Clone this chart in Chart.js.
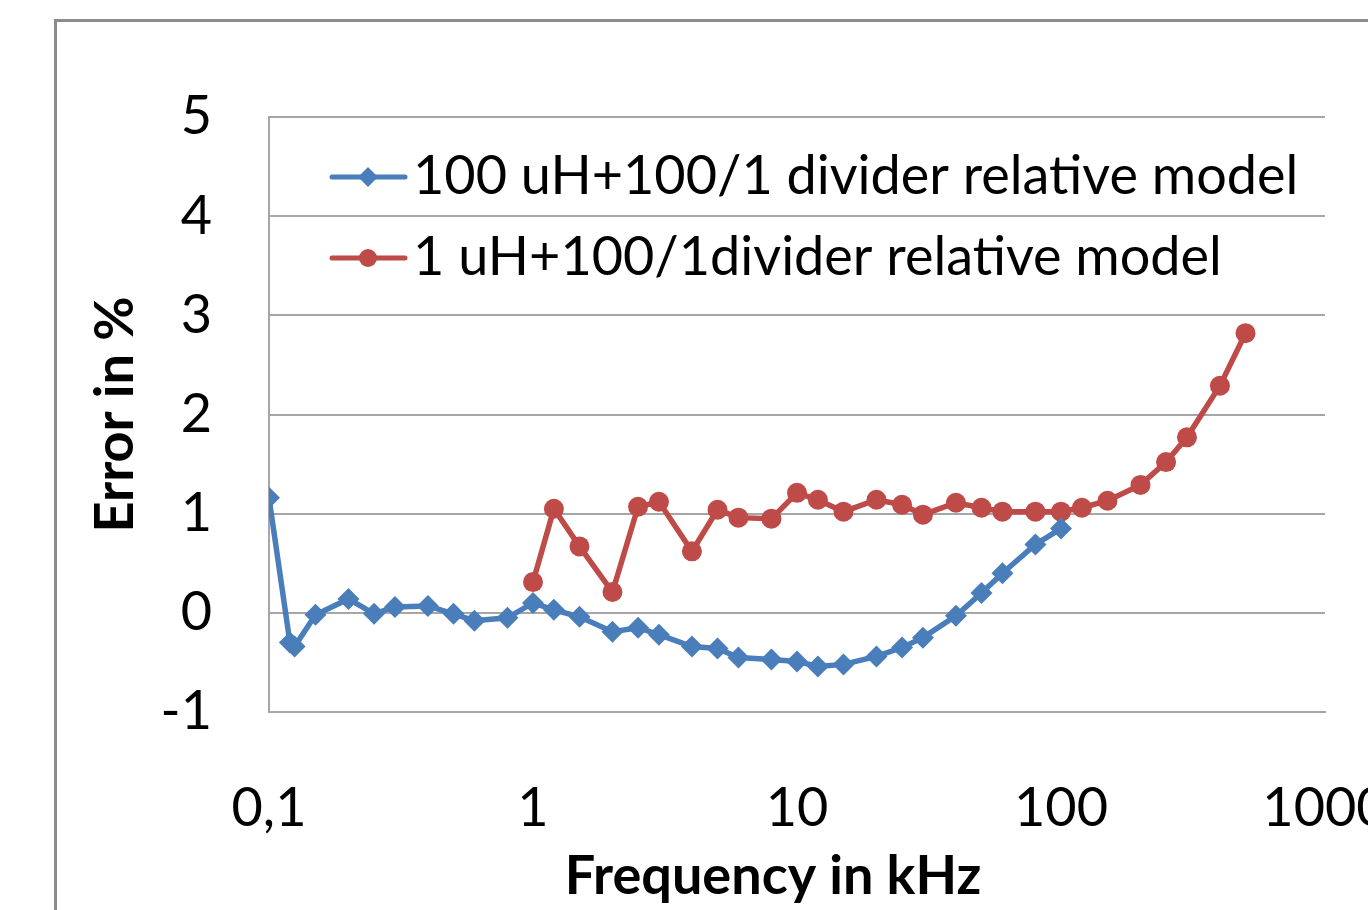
<!DOCTYPE html>
<html>
<head>
<meta charset="utf-8">
<script src="https://cdn.jsdelivr.net/npm/chart.js@4.4.1/dist/chart.umd.min.js"></script>
<style>
  html, body { margin: 0; padding: 0; background: #fff; overflow: hidden; width: 1368px; height: 910px; }
  #wrap { position: absolute; left: 0; top: 0; width: 1420px; height: 910px; }
  #frame { position: absolute; left: 54px; top: 19px; width: 1500px; height: 1000px; border: 3px solid #8c8c8c; box-sizing: border-box; }
  canvas { position: absolute; left: 0; top: 0; }
</style>
</head>
<body>
<div id="wrap">
  <div id="frame"></div>
  <canvas id="c" width="1420" height="910"></canvas>
</div>
<script>
// ---- data ----
const seriesNames = ["100 uH+100/1 divider relative model", "1 uH+100/1divider relative model"];
const freqA = [0.1, 0.12, 0.125, 0.15, 0.2, 0.25, 0.3, 0.4, 0.5, 0.6, 0.8, 1, 1.2, 1.5, 2, 2.5, 3, 4, 5, 6, 8, 10, 12, 15, 20, 25, 30, 40, 50, 60, 80, 100];
const errA  = [1.16, -0.30, -0.34, -0.02, 0.14, -0.01, 0.06, 0.07, -0.01, -0.08, -0.05, 0.10, 0.03, -0.04, -0.19, -0.15, -0.22, -0.34, -0.36, -0.45, -0.47, -0.49, -0.54, -0.52, -0.44, -0.35, -0.25, -0.03, 0.20, 0.40, 0.69, 0.85];
const freqB = [1, 1.2, 1.5, 2, 2.5, 3, 4, 5, 6, 8, 10, 12, 15, 20, 25, 30, 40, 50, 60, 80, 100, 120, 150, 200, 250, 300, 400, 500];
const errB  = [0.31, 1.05, 0.67, 0.21, 1.07, 1.12, 0.62, 1.04, 0.96, 0.95, 1.21, 1.14, 1.02, 1.14, 1.09, 0.99, 1.11, 1.06, 1.02, 1.02, 1.02, 1.06, 1.13, 1.29, 1.52, 1.77, 2.29, 2.82];
const xTickValues = [0.1, 1, 10, 100, 1000];
const xTickLabels = ["0,1", "1", "10", "100", "1000"];
const yTickValues = [-1, 0, 1, 2, 3, 4, 5];
const xTitle = "Frequency in kHz";
const yTitle = "Error in %";

const colors = ["#4a7ebb", "#be4b48"];
const markers = ["rectRot", "circle"];
const markerRadius = [11, 10];

const FONT = "Lato, 'Open Sans', sans-serif";

const toPoints = (xs, ys) => xs.map((x, i) => ({ x: x, y: ys[i] }));

const legendPlugin = {
  id: 'innerLegend',
  afterDatasetsDraw(chart) {
    const ctx = chart.ctx;
    const rows = [177, 258];
    ctx.save();
    chart.data.datasets.forEach((ds, i) => {
      const y = rows[i];
      ctx.strokeStyle = ds.borderColor;
      ctx.lineWidth = 5;
      ctx.lineCap = 'round';
      ctx.beginPath();
      ctx.moveTo(332, y);
      ctx.lineTo(405, y);
      ctx.stroke();
      ctx.fillStyle = ds.borderColor;
      Chart.helpers.drawPoint(ctx, { pointStyle: ds.pointStyle, radius: ds.pointRadius - 1, borderWidth: 0 }, 368, y);
      ctx.fillStyle = '#000';
      ctx.font = "54px " + FONT;
      ctx.textBaseline = 'middle';
      ctx.textAlign = 'left';
      ctx.fillText(ds.label, 413, y);
    });
    // x-axis title (centred as in the original, slightly left of the plot centre)
    ctx.font = "bold 54px " + FONT;
    ctx.textAlign = 'center';
    ctx.textBaseline = 'middle';
    ctx.fillStyle = '#000';
    ctx.fillText(xTitle, 773, 877);
    ctx.restore();
  }
};

new Chart(document.getElementById('c'), {
  type: 'line',
  data: {
    datasets: [
      { label: seriesNames[0], data: toPoints(freqA, errA), borderColor: colors[0], backgroundColor: colors[0],
        borderWidth: 5.5, pointStyle: markers[0], pointRadius: markerRadius[0], pointBorderWidth: 0, tension: 0 },
      { label: seriesNames[1], data: toPoints(freqB, errB), borderColor: colors[1], backgroundColor: colors[1],
        borderWidth: 5.5, pointStyle: markers[1], pointRadius: markerRadius[1], pointBorderWidth: 0, tension: 0 }
    ]
  },
  options: {
    responsive: false,
    animation: false,
    devicePixelRatio: 1,
    layout: { padding: { left: 83, top: 117, right: 95, bottom: 0 } },
    plugins: { legend: { display: false }, tooltip: { enabled: false } },
    scales: {
      x: {
        type: 'logarithmic',
        min: 0.1, max: 1000,
        afterBuildTicks: s => { s.ticks = xTickValues.map(v => ({ value: v })); },
        afterFit: s => { s.height = 198; s.paddingLeft = 0; s.paddingRight = 0; },
        grid: { display: false, drawTicks: false },
        border: { display: true, color: '#a6a6a6', width: 2 },
        ticks: {
          autoSkip: false, maxRotation: 0, padding: 64, color: '#000',
          font: { family: FONT, size: 54 },
          callback: (v) => { const i = xTickValues.indexOf(v); return i >= 0 ? xTickLabels[i] : ''; }
        },
        title: { display: false, text: xTitle }
      },
      y: {
        min: -1, max: 5,
        afterBuildTicks: s => { s.ticks = yTickValues.map(v => ({ value: v })); },
        afterFit: s => { s.width = 186; s.paddingTop = 0; s.paddingBottom = 0; },
        grid: { color: '#a6a6a6', lineWidth: 2, drawTicks: false },
        border: { display: true, color: '#a6a6a6', width: 2 },
        ticks: { padding: 57, color: '#000', font: { family: FONT, size: 54 } },
        title: { display: true, text: yTitle, color: '#000', font: { family: FONT, size: 54, weight: 'bold' }, padding: 0 }
      }
    }
  },
  plugins: [legendPlugin]
});
</script>
</body>
</html>
